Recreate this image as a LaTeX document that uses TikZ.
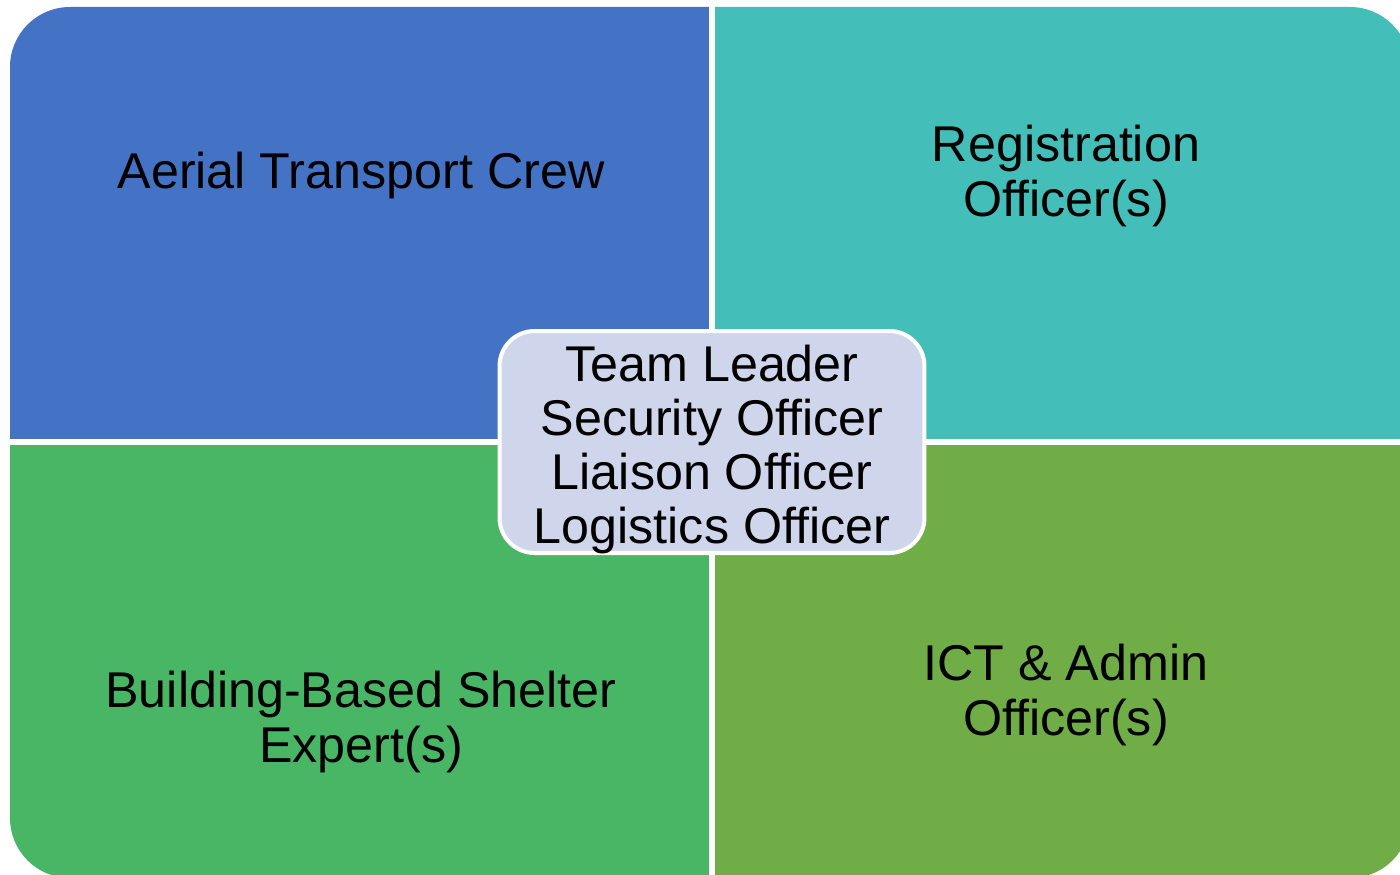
\documentclass[tikz,border=0pt]{standalone}
\usepackage{fontspec}
\setmainfont{Liberation Sans}
\definecolor{aerialblue}{HTML}{4472C4}
\definecolor{registteal}{HTML}{44BEB9}
\definecolor{shelgreen}{HTML}{48B665}
\definecolor{ictolive}{HTML}{70AD47}
\definecolor{corefill}{HTML}{CFD5EA}
\tikzset{
  role/.style={align=center,font=\fontsize{28.6}{30.8}\selectfont,inner sep=0pt},
  core/.style={role,draw=white,line width=2.3pt,fill=corefill,rounded corners=0.7cm,
    minimum width=8.5cm,minimum height=4.44cm}
}
\begin{document}
\begin{tikzpicture}[x=0.02cm,y=-0.02cm]
        \useasboundingbox (0,0) rectangle (1400,875);
        \begin{scope}
          \clip[rounded corners=1.2cm] (10,7) rectangle (1410,878);
          \fill[aerialblue] (0,0) rectangle (709,439);
          \fill[registteal] (715,0) rectangle (1420,439);
          \fill[shelgreen] (0,445) rectangle (709,890);
          \fill[ictolive] (715,445) rectangle (1420,890);
        \end{scope}
%        \draw[white,line width=3pt] (712,0) -- (712,875);
        \node[role] (aerial) at (361,176) {Aerial Transport Crew};
        \node[role] (regist) at (1066,176) {Registration\\Officer(s)};
        \node[role] (shelter) at (361,722) {Building-Based Shelter\\Expert(s)};
        \node[role] (ictadm) at (1066,695) {ICT \& Admin\\Officer(s)};
        \node[core] (lead) at (712,442) {\raisebox{-10.5pt}[0pt][0pt]{\parbox{8cm}{\centering Team Leader\\Security Officer\\Liaison Officer\\Logistics Officer}}};
      \end{tikzpicture}
\end{document}
